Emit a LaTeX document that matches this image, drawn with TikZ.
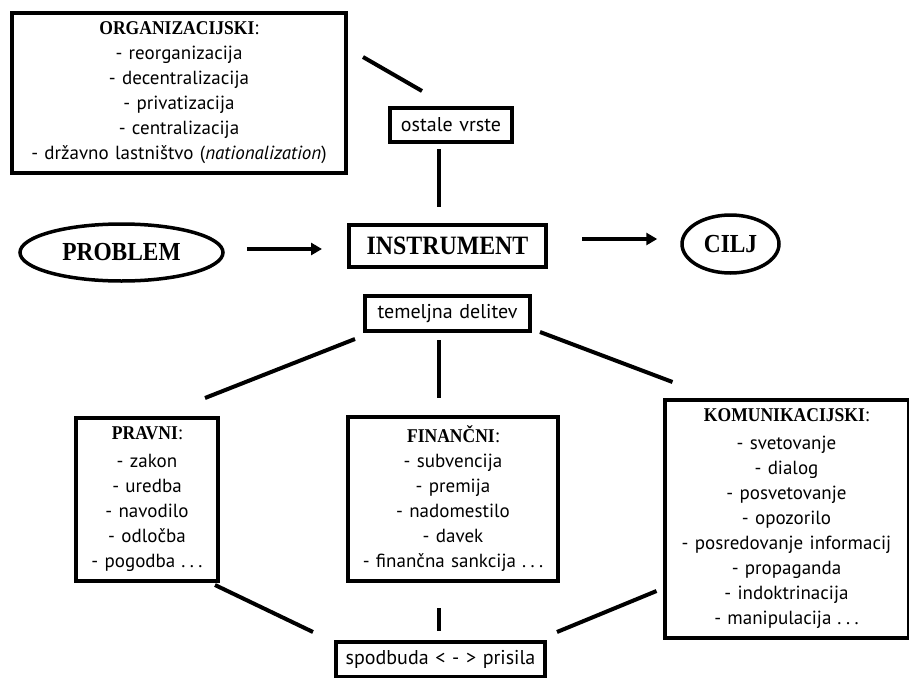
\documentclass[tikz,border=0pt]{standalone}
\usepackage{fontspec}
\setmainfont[WordSpace=1.25]{PT Sans}
\newfontfamily\headfont[FakeStretch=0.9]{Liberation Serif}
\usepackage{tikz}
\usetikzlibrary{positioning,shapes.geometric,arrows.meta,calc}

% serif caps heading with a sans colon
\newcommand{\kind}[1]{{\headfont\bfseries\fontsize{19.5}{25}\selectfont #1}:}
% spaced dots at the end of a list
\newcommand{\etc}{\hspace{6pt}.\hspace{4.5pt}.\hspace{4.5pt}.}

\begin{document}
\begin{tikzpicture}[
  x=1pt, y=-1pt,
  every node/.style={
    draw=black,
    line width=4pt,
    inner sep=0pt,
    align=center,
    font=\fontsize{19}{25}\selectfont
  },
  listbox/.style={rectangle},
  tagbox/.style={rectangle, font=\fontsize{20}{22}\selectfont},
  mainbox/.style={rectangle, font=\headfont\bfseries\fontsize{26.5}{28}\selectfont},
  oval/.style={ellipse, line width=3.5pt, font=\headfont\bfseries\fontsize{26}{28}\selectfont},
  link/.style={line width=4pt},
  arrow/.style={line width=4pt, -{Triangle[length=11pt,width=12pt]}}
]
\useasboundingbox (0,0) rectangle (909,677);

% Top row: other kinds of instruments
\node[listbox, minimum width=334pt, minimum height=160pt] (org) at (179,93)
  {\kind{ORGANIZACIJSKI}\\
   - reorganizacija\\
   - decentralizacija\\
   - privatizacija\\
   - centralizacija\\
   - državno lastništvo (\textit{nationalization})};
\node[tagbox, minimum width=122pt, minimum height=34pt] (ostale) at (451,125) {ostale vrste};

% Middle row
\node[oval, minimum width=203pt, minimum height=57pt] (problem) at (121.5,252.5) {PROBLEM};
\node[mainbox, minimum width=197pt, minimum height=42pt] (instr) at (447.5,246) {INSTRUMENT};
\node[oval, minimum width=97pt, minimum height=58pt] (cilj) at (730.5,244) {CILJ};

\node[tagbox, minimum width=165pt, minimum height=35pt] (temelj) at (447.5,313.5) {temeljna delitev};

% Bottom row: the three basic kinds
\node[listbox, minimum width=142pt, minimum height=163pt] (pravni) at (147,499.5)
  {\kind{PRAVNI}\\[3pt]
   - zakon\\
   - uredba\\
   - navodilo\\
   - odločba\\
   - pogodba\etc};
\node[listbox, minimum width=210pt, minimum height=164pt] (financni) at (453,499)
  {\kind{FINANČNI}\\
   - subvencija\\
   - premija\\
   - nadomestilo\\
   - davek\\
   - finančna sankcija\etc};
\node[listbox, minimum width=244pt, minimum height=238pt] (komun) at (786.5,519)
  {\kind{KOMUNIKACIJSKI}\\[3pt]
   - svetovanje\\
   - dialog\\
   - posvetovanje\\
   - opozorilo\\
   - posredovanje informacij\\
   - propaganda\\
   - indoktrinacija\\
   - manipulacija\etc};
\node[tagbox, minimum width=209pt, minimum height=35pt] (spodbuda) at (440.5,659.5) {spodbuda < - > prisila};

% Arrows
\draw[arrow] ([xshift=22pt,yshift=3.5pt]problem.east) -- ([xshift=-25pt,yshift=-3pt]instr.west);
\draw[arrow] ([xshift=34pt,yshift=7pt]instr.east) -- ([xshift=-23pt,yshift=5pt]cilj.west);

% Lines to the boxes
\draw[link] ([xshift=15pt,yshift=-46pt]org.north east) -- ([xshift=-29pt,yshift=15pt]ostale.north);
\draw[link] ([xshift=-12pt,yshift=-5pt]ostale.south) -- ([xshift=-8.5pt,yshift=16pt]instr.north);
\draw[link] ([xshift=-8pt,yshift=-6pt]temelj.south west) -- ([xshift=-15pt,yshift=18pt]pravni.north east);
\draw[link] ([xshift=-8.5pt,yshift=-7pt]temelj.south) -- ([xshift=-14pt,yshift=17pt]financni.north);
\draw[link] ([xshift=8pt,yshift=1pt]temelj.south east) -- ([xshift=10pt,yshift=16pt]komun.north west);
\draw[link] ([xshift=-5pt,yshift=-2pt]pravni.south east) -- ([xshift=-21pt,yshift=8pt]spodbuda.north west);
\draw[link] ([xshift=-14pt,yshift=-25pt]financni.south) -- ([xshift=-1.5pt,yshift=9pt]spodbuda.north);
\draw[link] ([xshift=10pt,yshift=8pt]spodbuda.north east) -- ([xshift=-6pt,yshift=49pt]komun.south west);

\end{tikzpicture}
\end{document}
